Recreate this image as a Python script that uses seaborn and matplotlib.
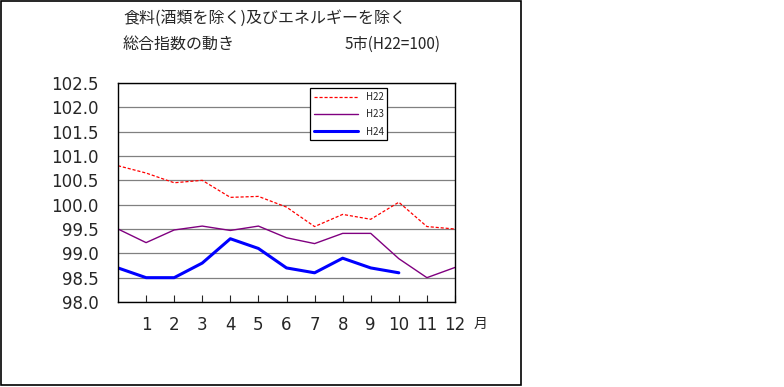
import numpy as np
import pandas as pd
import matplotlib
matplotlib.use("Agg")
import matplotlib.pyplot as plt
import seaborn as sns
from matplotlib.patches import Rectangle

months = list(range(0, 13))
h22 = [100.8, 100.65, 100.45, 100.5, 100.15, 100.17, 99.95, 99.55, 99.8, 99.7, 100.05, 99.55, 99.5]
h23 = [99.5, 99.22, 99.48, 99.56, 99.47, 99.56, 99.32, 99.2, 99.41, 99.41, 98.89, 98.5, 98.71]
h24 = [98.7, 98.5, 98.5, 98.8, 99.3, 99.1, 98.7, 98.6, 98.9, 98.7, 98.6]
y_ticks = [98.0, 98.5, 99.0, 99.5, 100.0, 100.5, 101.0, 101.5, 102.0, 102.5]
x_ticks = list(range(1, 13))

sns.set_theme(style="white")
plt.rcParams['font.family'] = ['Noto Sans CJK JP', 'DejaVu Sans']

fig = plt.figure(figsize=(7.84, 3.87), dpi=100)
ax = fig.add_axes([118 / 784, 1 - 302 / 387, 337 / 784, 219 / 387])

# outer frame on the left part only
fig.patches.append(Rectangle((0.5 / 784, 2 / 387), 520 / 784, 384.5 / 387,
                             transform=fig.transFigure, fill=False,
                             edgecolor='black', lw=1.2))

df = pd.DataFrame({
    "month": months * 2 + months[:len(h24)],
    "value": h22 + h23 + h24,
    "year": ["H22"] * 13 + ["H23"] * 13 + ["H24"] * len(h24),
})

styles = {"H22": dict(color="#ff0000", lw=0.9, ls=(0, (2.5, 1.5))),
          "H23": dict(color="#800080", lw=1.0, ls="-"),
          "H24": dict(color="#0000ff", lw=2.2, ls="-")}
for name, st in styles.items():
    sub = df[df["year"] == name]
    sns.lineplot(data=sub, x="month", y="value", ax=ax, label=name,
                 color=st["color"], lw=st["lw"], linestyle=st["ls"])

ax.set_xlim(0, 12)
ax.set_ylim(98.0, 102.5)
ax.set_yticks(y_ticks)
ax.set_yticklabels([f"{v:.1f}" for v in y_ticks], fontsize=12, family='DejaVu Sans')
ax.set_xticks(x_ticks)
ax.set_xticklabels([str(v) for v in x_ticks], fontsize=12, family='DejaVu Sans')
ax.tick_params(axis='x', direction='in', length=5, width=0.8, pad=10, bottom=True)
ax.tick_params(axis='y', length=0, pad=14)
ax.yaxis.grid(True, color='#808080', lw=0.9)
ax.xaxis.grid(False)
for sp in ax.spines.values():
    sp.set_color('black')
    sp.set_linewidth(1.0)
ax.set_xlabel("")
ax.set_ylabel("")

ax.text(1.055, -0.1, "月", transform=ax.transAxes, fontsize=10, ha='left', va='center')

leg = ax.legend(loc='upper left', bbox_to_anchor=(0.57, 0.977), fontsize=7,
                frameon=True, fancybox=False, edgecolor='black', framealpha=1,
                handlelength=4.5, borderpad=0.4, labelspacing=0.75, borderaxespad=0)
leg.get_frame().set_linewidth(0.9)

fig.text(123 / 784, 1 - 18 / 387, "食料(酒類を除く)及びエネルギーを除く", fontsize=11.5, va='center')
fig.text(123 / 784, 1 - 44 / 387, "総合指数の動き", fontsize=11.5, va='center')
fig.text(345 / 784, 1 - 44 / 387, "5市(H22=100)", fontsize=11, va='center')

fig.savefig("out.png", dpi=100)
plt.close()
